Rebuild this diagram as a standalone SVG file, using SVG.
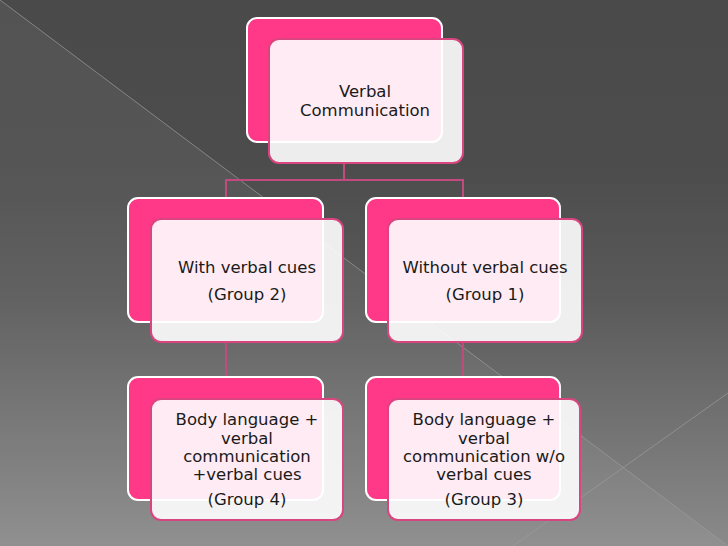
<svg xmlns="http://www.w3.org/2000/svg" width="728" height="546" viewBox="0 0 728 546">
  <defs>
    <linearGradient id="bg" x1="0" y1="0" x2="0" y2="1">
      <stop offset="0" stop-color="#4a4a4a"/>
      <stop offset="0.3" stop-color="#4c4c4c"/>
      <stop offset="0.55" stop-color="#5a5a5a"/>
      <stop offset="1" stop-color="#8a8a8a"/>
    </linearGradient>
    <style>
      .back { fill: #ff3888; stroke: #ffffff; stroke-width: 2; }
      .front { fill: #ffffff; fill-opacity: 0.9; stroke: #d8457f; stroke-width: 2; }
      .conn { fill: none; stroke: #c24a7e; stroke-width: 2; }
      .lbl { font-family: "DejaVu Sans", "Liberation Sans", sans-serif; font-size: 16.5px; fill: #1a1a1a; text-anchor: middle; }
      .deco { stroke: #9c9c9c; stroke-width: 1; stroke-opacity: 0.7; }
    </style>
  </defs>
  <rect x="0" y="0" width="728" height="546" fill="url(#bg)"/>
  <polygon points="0,0 728,546 0,546" fill="#ffffff" fill-opacity="0.05"/>
  <line class="deco" x1="0" y1="0" x2="728" y2="546"/>
  <line class="deco" x1="513" y1="546" x2="728" y2="393"/>

  <g id="connectors">
    <path class="conn" d="M344,163 V180 M226,198 V180 H463 V198"/>
    <path class="conn" d="M226,342 V378"/>
    <path class="conn" d="M463,342 V378"/>
  </g>

  <g id="node-top">
    <rect class="back" x="247" y="18" width="195" height="124" rx="10"/>
    <rect class="front" x="269" y="39" width="194" height="124" rx="10"/>
    <text class="lbl" x="365" y="97">Verbal</text>
    <text class="lbl" x="365" y="116">Communication</text>
  </g>

  <g id="node-group2">
    <rect class="back" x="128" y="198" width="195" height="124" rx="10"/>
    <rect class="front" x="151" y="219" width="192" height="123" rx="10"/>
    <text class="lbl" x="247" y="273">With verbal cues</text>
    <text class="lbl" x="247" y="300">(Group 2)</text>
  </g>

  <g id="node-group1">
    <rect class="back" x="366" y="198" width="194" height="124" rx="10"/>
    <rect class="front" x="388" y="219" width="194" height="123" rx="10"/>
    <text class="lbl" x="485" y="273">Without verbal cues</text>
    <text class="lbl" x="485" y="300">(Group 1)</text>
  </g>

  <g id="node-group4">
    <rect class="back" x="128" y="377" width="195" height="123" rx="10"/>
    <rect class="front" x="151" y="399" width="192" height="121" rx="10"/>
    <text class="lbl" x="247" y="425">Body language +</text>
    <text class="lbl" x="247" y="444">verbal</text>
    <text class="lbl" x="247" y="462">communication</text>
    <text class="lbl" x="247" y="480">+verbal cues</text>
    <text class="lbl" x="247" y="505">(Group 4)</text>
  </g>

  <g id="node-group3">
    <rect class="back" x="366" y="377" width="194" height="123" rx="10"/>
    <rect class="front" x="388" y="399" width="192" height="121" rx="10"/>
    <text class="lbl" x="484" y="425">Body language +</text>
    <text class="lbl" x="484" y="444">verbal</text>
    <text class="lbl" x="484" y="462">communication w/o</text>
    <text class="lbl" x="484" y="480">verbal cues</text>
    <text class="lbl" x="484" y="505">(Group 3)</text>
  </g>
</svg>
